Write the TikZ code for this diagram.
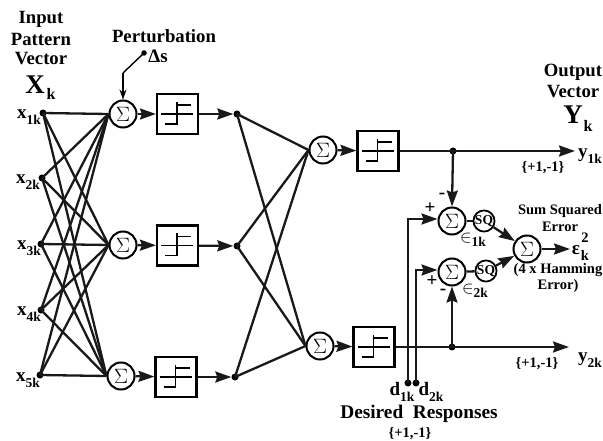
\documentclass[tikz,border=0pt]{standalone}
\usepackage{fontspec}
\setmainfont{Liberation Serif}
\usetikzlibrary{arrows.meta}
\newcommand{\sublab}[2]{\textbf{#1}\raisebox{-0.3em}{\fontsize{13.5}{13.5}\selectfont\textbf{#2}}}
\tikzset{
  wire/.style={line width=2.3pt,black!90},
  arr/.style={wire,-{Stealth[length=16pt,width=11pt,inset=2pt]}},
  sumnode/.style={circle,draw,line width=2pt,minimum size=27pt,inner sep=0pt,font=\fontsize{21}{21}\selectfont},
  sqnode/.style={circle,draw,line width=1.8pt,minimum size=21pt,inner sep=0pt,font=\fontsize{13.5}{13.5}\selectfont\bfseries},
  stepbox/.style={rectangle,draw,line width=2.1pt,minimum width=41pt,minimum height=40pt,inner sep=0pt},
  jdot/.style={circle,fill=black,minimum size=7pt,inner sep=0pt},
  smalldot/.style={circle,fill=black,minimum size=5.5pt,inner sep=0pt},
  ttl/.style={font=\fontsize{18.7}{18.7}\selectfont\bfseries,inner sep=0pt},
  lab/.style={font=\fontsize{19}{19}\selectfont,inner sep=0pt},
  small/.style={font=\fontsize{14.5}{14.5}\selectfont\bfseries,inner sep=0pt},
  mid/.style={font=\fontsize{14.5}{14.5}\selectfont\bfseries,inner sep=0pt},
  sgn/.style={font=\fontsize{19}{19}\selectfont\bfseries,inner sep=0pt},
  big/.style={font=\fontsize{27}{27}\selectfont\bfseries,inner sep=0pt},
  bigsub/.style={font=\fontsize{16}{16}\selectfont\bfseries,inner sep=0pt},
  stepsym/.pic={
    \draw[line width=1.2pt] (-16.5,0) -- (15.5,0);
    \draw[line width=1.8pt] (-12.5,10) -- (-0.5,10) -- (-0.5,-12);
    \draw[line width=1.8pt] (-0.5,-9) -- (13.5,-9);
  }
}
\begin{document}
\begin{tikzpicture}[x=1pt,y=-1pt]
\useasboundingbox (0,0) rectangle (603,441);
% inputs
\node[jdot] (x1) at (43,113) {};
\node[jdot] (x2) at (42,178) {};
\node[jdot] (x3) at (41,244) {};
\node[jdot] (x4) at (41,310) {};
\node[jdot] (x5) at (40,375) {};
% first layer
\node[sumnode] (s1) at (123,114) {$\Sigma$};
\node[sumnode] (s2) at (123,245) {$\Sigma$};
\node[sumnode] (s3) at (121,376) {$\Sigma$};
\node[stepbox] (b1) at (177.5,114) {}; \pic at (b1.center) {stepsym};
\node[stepbox] (b2) at (177.5,245.5) {}; \pic at (b2.center) {stepsym};
\node[stepbox] (b3) at (176,377) {}; \pic at (b3.center) {stepsym};
\node[jdot] (j1) at (237,114) {};
\node[jdot] (j2) at (237,246) {};
\node[jdot] (j3) at (235,377) {};
% second layer
\node[sumnode] (s4) at (323,150) {$\Sigma$};
\node[sumnode] (s5) at (320,346) {$\Sigma$};
\node[stepbox] (b4) at (378,151) {}; \pic at (b4.center) {stepsym};
\node[stepbox] (b5) at (374,347) {}; \pic at (b5.center) {stepsym};
\node[jdot] (j4) at (453,151) {};
\node[jdot] (j5) at (452,347) {};
\coordinate (yend1) at (575,151);
\coordinate (yend2) at (569,347);
% error part
\node[sumnode] (e1) at (452,221) {$\Sigma$};
\node[sumnode] (e2) at (452,272) {$\Sigma$};
\node[sqnode] (q1) at (484,221) {SQ};
\node[sqnode] (q2) at (486,271) {SQ};
\node[sumnode] (f) at (527,249) {$\Sigma$};
\node[jdot] (d1) at (408,383) {};
\node[jdot] (d2) at (416,383) {};
\coordinate (d1c) at (408,219);
\coordinate (d2c) at (416,270);
\coordinate (pc) at (123,73);
\node[smalldot] (pd) at (144,53) {};
% fan
\foreach \i in {1,...,5} \foreach \s in {s1,s2,s3}
  \draw[wire] (x\i.center) -- (\s.west);
% connectors
\draw[line width=1.4pt] (pd.center) -- (pc);
\draw[line width=1.4pt,-{Stealth[length=10pt,width=7pt]}] (pc) -- (s1.north);
\draw[arr] (s1) -- (b1);
\draw[arr] (s2) -- (b2);
\draw[arr] (s3) -- (b3);
\draw[arr] (b1) -- (j1);
\draw[arr] (b2) -- (j2);
\draw[arr] (b3) -- (j3);
\foreach \j in {j1,j2,j3} \foreach \s in {s4,s5}
  \draw[wire] (\j.center) -- (\s.west);
\draw[arr] (s4) -- (b4);
\draw[arr] (s5) -- (b5);
\draw[arr] (b4) -- (yend1);
\draw[arr] (b5) -- (yend2);
\draw[arr] (j4.center) -- (e1.north);
\draw[arr] (j5.center) -- (e2.south);
\draw[wire] (e1) -- (q1);
\draw[wire] (e2) -- (q2);
\draw[arr] (q1) -- (f);
\draw[arr] (q2) -- (f);
\coordinate (fe) at (570,249);
\draw[arr] (f) -- (fe);
\draw[wire] (d1.center) -- (d1c);
\draw[arr] ([xshift=-1.1pt]d1c) -- (e1.west |- d1c);
\draw[wire] (d2.center) -- (d2c);
\draw[arr] ([xshift=-1.1pt]d2c) -- (e2.west |- d2c);
% left titles
\node[ttl] at (41,19) {Input};
\node[ttl] at (41,39) {Pattern};
\node[ttl] at (41,59) {Vector};
\node[big] at (35,85) {X};
\node[bigsub] at (51,94) {k};
\node[ttl] at (164,36) {Perturbation};
\node[font=\fontsize{19}{19}\selectfont\bfseries,inner sep=0pt] at (158,56) {Δs};
\node[lab] at (29,117) {\sublab{x}{1k}};
\node[lab] at (28,182) {\sublab{x}{2k}};
\node[lab] at (29,248) {\sublab{x}{3k}};
\node[lab] at (29,314) {\sublab{x}{4k}};
\node[lab] at (28,380) {\sublab{x}{5k}};
% right titles
\node[ttl] at (573,72) {Output};
\node[ttl] at (573,92) {Vector};
\node[big] at (573,115) {Y};
\node[bigsub] at (588,126) {k};
\node[lab] at (590,156) {\sublab{y}{1k}};
\node[lab] at (590,360) {\sublab{y}{2k}};
\node[small] at (543,168) {\{+1,-1\}};
\node[small] at (537,364) {\{+1,-1\}};
\node[sgn] at (442,196) {-};
\node[sgn] at (430,208) {+};
\node[sgn] at (432,281) {+};
\node[sgn] at (443,292) {-};
\node[lab] at (473,240) {$\in$\raisebox{-0.2em}{\fontsize{13.5}{13.5}\selectfont\textbf{1k}}};
\node[lab] at (475,291) {$\in$\raisebox{-0.2em}{\fontsize{13.5}{13.5}\selectfont\textbf{2k}}};
\node[mid] at (560,211) {Sum Squared};
\node[mid] at (560,227) {Error};
\node[mid] at (558,270) {(4 x Hamming};
\node[mid] at (558,286) {Error)};
\node[lab] at (576,250) {\textbf{ε}};
\node[small] at (585,238) {2};
\node[small] at (585,255) {k};
\node[lab] at (402,392) {\sublab{d}{1k}};
\node[lab] at (431,392) {\sublab{d}{2k}};
\node[ttl,font=\fontsize{19.3}{19.3}\selectfont\bfseries] at (419,414) {Desired\ \ Responses};
\node[small] at (410,434) {\{+1,-1\}};
\end{tikzpicture}
\end{document}
